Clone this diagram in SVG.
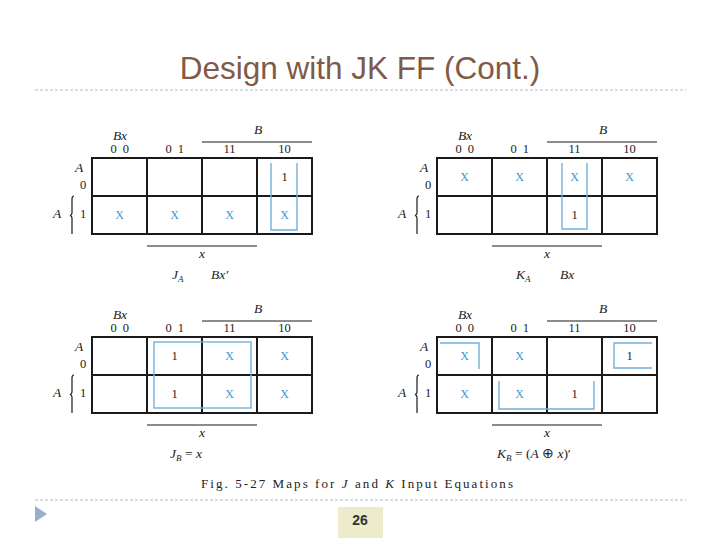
<svg xmlns="http://www.w3.org/2000/svg" width="720" height="540" viewBox="0 0 720 540">
<style>
.t{font-family:"Liberation Serif","Times New Roman",serif;fill:#222}
.i{font-style:italic}
.h{font-size:12.5px}
.sp{letter-spacing:1.5px}
.lbl{font-size:13.5px}
.xm{font-family:"Liberation Serif",serif;font-size:12px;fill:#3d9ad2;text-anchor:middle}
.one{font-family:"Liberation Serif",serif;font-size:12.5px;fill:#222;text-anchor:middle}
.grid{fill:none;stroke:#1a1a1a;stroke-width:2}
.thin{stroke:#1a1a1a;stroke-width:1.2;fill:none}
.loop{fill:none;stroke:#74b0da;stroke-width:1.4}
.dash{stroke:#b4bcc6;stroke-width:1;stroke-dasharray:3,2}
.c{text-anchor:middle}
</style>
<defs>
<g id="frame">
<text class="t i lbl c" x="28" y="-18">Bx</text>
<text class="t i lbl c" x="166" y="-24">B</text>
<line class="thin" x1="110" y1="-16" x2="220" y2="-16"/>
<text class="t h c sp" x="28.5" y="-5" xml:space="preserve">0 0</text>
<text class="t h c sp" x="83.5" y="-5" xml:space="preserve">0 1</text>
<text class="t h c" x="137.5" y="-5">11</text>
<text class="t h c" x="192.5" y="-5">10</text>
<text class="t i lbl c" x="-13" y="14">A</text>
<text class="t h c" x="-9" y="31">0</text>
<text class="t i lbl c" x="-35" y="60">A</text>
<text class="t h c" x="-9" y="60">1</text>
<path class="thin" d="M-18 38 Q-20 38 -20 41 V55 Q-20 57 -22 57.5 Q-20 58 -20 60 V76"/>
<rect class="grid" x="0" y="0" width="220" height="76"/>
<line class="grid" x1="55" y1="0" x2="55" y2="76"/>
<line class="grid" x1="110" y1="0" x2="110" y2="76"/>
<line class="grid" x1="165" y1="0" x2="165" y2="76"/>
<line class="grid" x1="0" y1="38" x2="220" y2="38"/>
<line class="thin" x1="55" y1="88" x2="165" y2="88"/>
<text class="t i lbl c" x="110" y="100">x</text>
</g>
</defs>

<text x="360" y="79" text-anchor="middle" font-family="Liberation Sans, Arial, sans-serif" font-size="31.5" fill="#7f5a48">Design with JK FF (Cont.)</text>
<line class="dash" x1="35" y1="90" x2="686" y2="90"/>

<g id="map-JA" transform="translate(92,158)">
<use href="#frame"/>
<text class="one" x="192.5" y="23">1</text>
<text class="xm" x="27.5" y="61">X</text>
<text class="xm" x="82.5" y="61">X</text>
<text class="xm" x="137.5" y="61">X</text>
<text class="xm" x="192.5" y="61">X</text>
<path class="loop" d="M179 5 V72 H205 V5"/>
<text class="t i lbl" x="80" y="121">J<tspan font-size="9" dy="3">A</tspan></text>
<text class="t i lbl" x="119" y="121">Bx′</text>
</g>

<g id="map-KA" transform="translate(437,158)">
<use href="#frame"/>
<text class="xm" x="27.5" y="23">X</text>
<text class="xm" x="82.5" y="23">X</text>
<text class="xm" x="137.5" y="23">X</text>
<text class="xm" x="192.5" y="23">X</text>
<text class="one" x="137.5" y="61">1</text>
<path class="loop" d="M125 5 V71 H150 V5"/>
<text class="t i lbl" x="79" y="121">K<tspan font-size="9" dy="3">A</tspan></text>
<text class="t i lbl" x="123" y="121">Bx</text>
</g>

<g id="map-JB" transform="translate(92,337)">
<use href="#frame"/>
<text class="one" x="82.5" y="23">1</text>
<text class="xm" x="137.5" y="23">X</text>
<text class="xm" x="192.5" y="23">X</text>
<text class="one" x="82.5" y="61">1</text>
<text class="xm" x="137.5" y="61">X</text>
<text class="xm" x="192.5" y="61">X</text>
<rect class="loop" x="62" y="5" width="97" height="66"/>
<text class="t lbl" x="78" y="121"><tspan class="i">J</tspan><tspan class="i" font-size="9" dy="3">B</tspan><tspan dy="-3"> = </tspan><tspan class="i">x</tspan></text>
</g>

<g id="map-KB" transform="translate(437,337)">
<use href="#frame"/>
<text class="xm" x="27.5" y="23">X</text>
<text class="xm" x="82.5" y="23">X</text>
<text class="one" x="192.5" y="23">1</text>
<text class="xm" x="27.5" y="61">X</text>
<text class="xm" x="82.5" y="61">X</text>
<text class="one" x="137.5" y="61">1</text>
<path class="loop" d="M3 6 H42 V32"/>
<path class="loop" d="M215 6 H177 V31 H215"/>
<path class="loop" d="M62 44 V72 H157 V44"/>
<text class="t lbl" x="60" y="121"><tspan class="i">K</tspan><tspan class="i" font-size="9" dy="3">B</tspan><tspan dy="-3"> = (</tspan><tspan class="i">A</tspan><tspan> ⊕ </tspan><tspan class="i">x</tspan><tspan>)′</tspan></text>
</g>

<text class="t" x="201" y="488" font-size="13" textLength="312" lengthAdjust="spacing">Fig. 5-27  Maps for <tspan class="i">J</tspan> and <tspan class="i">K</tspan> Input Equations</text>
<line class="dash" x1="35" y1="500" x2="686" y2="500"/>
<polygon points="35,506 47,514 35,522" fill="#9aaecb"/>
<rect x="338" y="507" width="45" height="31" fill="#ecebcc"/>
<text x="360" y="525" text-anchor="middle" font-family="Liberation Sans, Arial, sans-serif" font-size="14" font-weight="bold" fill="#333">26</text>
</svg>
